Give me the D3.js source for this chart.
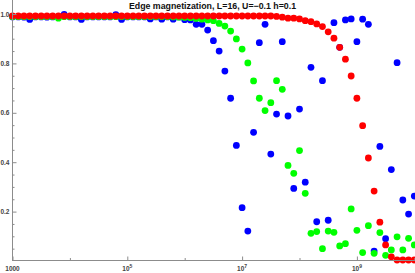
<!DOCTYPE html>
<html>
<head>
<meta charset="utf-8">
<script src="https://cdn.jsdelivr.net/npm/d3@7"></script>
<style>
  body { margin: 0; background: #fff; }
  svg { display: block; }
</style>
</head>
<body>
<div id="chart"></div>
<script>

// time grid, log10(t), one point every 0.1 decade
var logTimes = [3.0, 3.1, 3.2, 3.3, 3.4, 3.5, 3.6, 3.7, 3.8, 3.9,
  4.0, 4.1, 4.2, 4.3, 4.4, 4.5, 4.6, 4.7, 4.8, 4.9,
  5.0, 5.1, 5.2, 5.3, 5.4, 5.5, 5.6, 5.7, 5.8, 5.9,
  6.0, 6.1, 6.2, 6.3, 6.4, 6.5, 6.6, 6.7, 6.8, 6.9,
  7.0, 7.1, 7.2, 7.3, 7.4, 7.5, 7.6, 7.7, 7.8, 7.9,
  8.0, 8.1, 8.2, 8.3, 8.4, 8.5, 8.6, 8.7, 8.8, 8.9,
  9.0, 9.1, 9.2, 9.3, 9.4, 9.5, 9.6, 9.7, 9.8, 9.9, 10.0];

var blueValues = [0.988, 0.988, 0.987, 0.978, 0.988, 0.988, 0.987, 0.988, 0.988, 0.998,
  0.988, 0.988, 0.978, 0.988, 0.988, 0.988, 0.988, 0.988, 0.997, 0.978,
  0.988, 0.988, 0.988, 0.988, 0.980, 0.988, 0.979, 0.988, 0.979, 0.988,
  0.977, 0.976, 0.958, 0.958, 0.935, 0.892, 0.850, 0.769, 0.659, 0.468,
  0.216, 0.121, 0.521, 0.884, 0.958, 0.433, 0.595, 0.888, 0.587, 0.294,
  0.615, 0.319, 0.784, 0.159, 0.730, 0.165, 0.965, 0.865, 0.976, 0.980,
  0.888, 0.979, 0.958, 0.040, 0.464, 0.090, 0.370, 0.803, 0.247, 0.190, 0.263];

var greenValues = [0.989, 0.989, 0.989, 0.989, 0.989, 0.989, 0.989, 0.989, 0.983, 0.989,
  0.989, 0.989, 0.989, 0.989, 0.989, 0.989, 0.989, 0.989, 0.989, 0.989,
  0.989, 0.989, 0.989, 0.989, 0.989, 0.989, 0.989, 0.989, 0.988, 0.987,
  0.986, 0.985, 0.982, 0.979, 0.976, 0.973, 0.962, 0.951, 0.931, 0.899,
  0.858, 0.802, 0.729, 0.659, 0.609, 0.641, 0.730, 0.695, 0.387, 0.355,
  0.447, 0.274, 0.112, 0.119, 0.050, 0.121, 0.116, 0.061, 0.070, 0.211,
  0.124, 0.034, 0.143, 0.031, 0.115, 0.023, 0.045, 0.098, 0.045, 0.092, 0.065];

var redValues = [0.992, 0.992, 0.992, 0.992, 0.992, 0.992, 0.992, 0.992, 0.992, 0.992,
  0.992, 0.992, 0.992, 0.992, 0.992, 0.992, 0.992, 0.992, 0.992, 0.992,
  0.992, 0.992, 0.992, 0.992, 0.992, 0.992, 0.992, 0.992, 0.992, 0.992,
  0.992, 0.992, 0.992, 0.992, 0.992, 0.992, 0.992, 0.992, 0.992, 0.992,
  0.992, 0.992, 0.992, 0.992, 0.992, 0.992, 0.990, 0.987, 0.983, 0.983,
  0.980, 0.973, 0.969, 0.960, 0.949, 0.928, 0.902, 0.865, 0.817, 0.749,
  0.659, 0.548, 0.417, 0.283, 0.157, 0.065, 0.017, 0.004, 0.004, 0.004, 0.004];

var xMajorTicks = [1e3, 1e5, 1e7, 1e9];
var xMajorLabels = [["1000", ""], ["10", "5"], ["10", "7"], ["10", "9"]];
var xMinorTicks = [1e4, 1e6, 1e8, 1e10];
var yMajorTicks = [0.2, 0.4, 0.6, 0.8, 1.0];
var yMinorTicks = [0.05, 0.1, 0.15, 0.25, 0.3, 0.35, 0.45, 0.5, 0.55, 0.65, 0.7, 0.75, 0.85, 0.9, 0.95];

var title = "Edge magnetization, L=16, U=\u22120.1 h=0.1";

var width = 415;
var height = 273;
var axisColor = "#8c8c8c";
var labelColor = "#444";

var svg = d3.select("#chart")
  .append("svg")
  .attr("width", width)
  .attr("height", height);

var x = d3.scaleLog()
  .domain([1e3, 1e10])
  .range([12.5, 414.3]);

var y = d3.scaleLinear()
  .domain([0, 1])
  .range([261, 14]);

// points, blue first so that red sits on top
var series = [
  { values: blueValues, color: "#0000ff" },
  { values: greenValues, color: "#00ff00" },
  { values: redValues, color: "#ff0000" }
];

series.forEach(function(s) {
  svg.append("g")
    .selectAll("circle")
    .data(s.values)
    .enter()
    .append("circle")
    .attr("cx", (d, i) => x(Math.pow(10, logTimes[i])))
    .attr("cy", (d) => y(d))
    .attr("r", 3.4)
    .attr("fill", s.color);
});

// axis lines
svg.append("line")
  .attr("x1", 12.5).attr("x2", 12.5)
  .attr("y1", 0).attr("y2", y(0))
  .attr("stroke", axisColor);

svg.append("line")
  .attr("x1", 12).attr("x2", width)
  .attr("y1", 260.5).attr("y2", 260.5)
  .attr("stroke", axisColor);

function styleAxis(g) {
  g.select(".domain").remove();
  g.selectAll("line").attr("stroke", axisColor);
  g.selectAll("text")
    .attr("fill", labelColor)
    .style("font-family", "'Liberation Sans', Arial, sans-serif")
    .style("font-size", "6.5px")
    .style("font-weight", "bold");
}

// x ticks, drawn upward
svg.append("g")
  .attr("transform", "translate(0,260.5)")
  .call(d3.axisBottom(x).tickValues(xMajorTicks).tickSizeInner(-4).tickSizeOuter(0).tickFormat(""))
  .call(styleAxis);

svg.append("g")
  .attr("transform", "translate(0,260.5)")
  .call(d3.axisBottom(x).tickValues(xMinorTicks).tickSizeInner(-2.5).tickSizeOuter(0).tickFormat(""))
  .call(styleAxis);

var xLabels = svg.append("g")
  .selectAll("text")
  .data(xMajorTicks)
  .enter()
  .append("text")
  .attr("x", (d) => x(d))
  .attr("y", 271)
  .attr("text-anchor", "middle")
  .attr("fill", labelColor)
  .style("font-family", "'Liberation Sans', Arial, sans-serif")
  .style("font-size", "6.5px")
  .style("font-weight", "bold");

xLabels.append("tspan").text((d, i) => xMajorLabels[i][0]);
xLabels.append("tspan")
  .attr("dy", -3)
  .style("font-size", "5px")
  .text((d, i) => xMajorLabels[i][1]);

// y ticks, drawn to the right
svg.append("g")
  .attr("transform", "translate(12.5,0)")
  .call(d3.axisLeft(y).tickValues(yMajorTicks).tickSizeInner(-4).tickSizeOuter(0).tickPadding(3).tickFormat(d3.format(".1f")))
  .call(styleAxis);

svg.append("g")
  .attr("transform", "translate(12.5,0)")
  .call(d3.axisLeft(y).tickValues(yMinorTicks).tickSizeInner(-2).tickSizeOuter(0).tickFormat(""))
  .call(styleAxis);

// title
svg.append("text")
  .attr("x", 212.5)
  .attr("y", 8.5)
  .attr("text-anchor", "middle")
  .attr("fill", "#111")
  .style("font-family", "'Liberation Sans', Arial, sans-serif")
  .style("font-size", "8.8px")
  .style("font-weight", "bold")
  .text(title);

</script>
</body>
</html>
